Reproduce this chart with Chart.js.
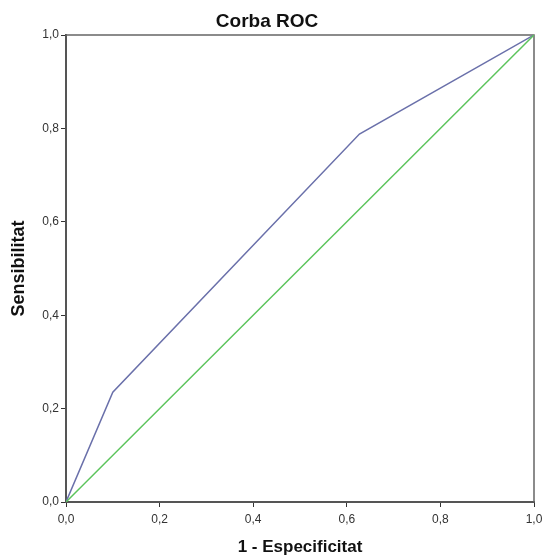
<!DOCTYPE html>
<html>
<head>
<meta charset="utf-8">
<script src="https://cdn.jsdelivr.net/npm/chart.js@4"></script>
<style>
  html, body { margin: 0; padding: 0; background: #fff; }
  #wrap { width: 543px; height: 556px; position: relative; }
</style>
</head>
<body>
<div id="wrap"><canvas id="roc"></canvas></div>
<script>
// ROC curve (SPSS style) - 1 - specificity vs sensitivity

const chartTitle = 'Corba ROC';
const xTitle = '1 - Especificitat';
const yTitle = 'Sensibilitat';

// curve vertices
const curveX = [0, 0.1, 0.627, 1];
const curveY = [0, 0.235, 0.788, 1];
// chance diagonal
const diagX = [0, 1];
const diagY = [0, 1];

const tickStep = 0.2;

const toPts = (xs, ys) => xs.map((x, i) => ({ x: x, y: ys[i] }));
const fmt = v => v.toFixed(1).replace('.', ',');
const FAM = '"Liberation Sans", Arial, sans-serif';

// frame on top/right + chart title
const framePlugin = {
    id: 'frame',
    beforeDatasetsDraw(chart) {
        const { ctx, chartArea: a } = chart;
        ctx.save();
        ctx.strokeStyle = '#666';
        ctx.lineWidth = 1.5;
        ctx.beginPath();
        ctx.moveTo(a.left, a.top);
        ctx.lineTo(a.right, a.top);
        ctx.lineTo(a.right, a.bottom);
        ctx.stroke();
        ctx.restore();
    },
    afterDraw(chart) {
        const ctx = chart.ctx;
        ctx.save();
        ctx.font = 'bold 19px ' + FAM;
        ctx.fillStyle = '#111';
        ctx.textAlign = 'center';
        ctx.textBaseline = 'middle';
        ctx.fillText(chartTitle, 267, 22);
        ctx.restore();
    }
};

const tickFont = { family: FAM, size: 12 };

new Chart(document.getElementById('roc'), {
    type: 'line',
    data: {
        datasets: [
            { data: toPts(diagX, diagY), borderColor: '#5cc45c', borderWidth: 1.5, pointRadius: 0, tension: 0 },
            { data: toPts(curveX, curveY), borderColor: '#6a70aa', borderWidth: 1.5, pointRadius: 0, tension: 0 }
        ]
    },
    options: {
        responsive: true,
        maintainAspectRatio: false,
        animation: false,
        layout: { padding: { top: 35, right: 9, left: 0, bottom: 0 } },
        plugins: {
            legend: { display: false },
            title: { display: false },
            tooltip: { enabled: false }
        },
        scales: {
            x: {
                type: 'linear', min: 0, max: 1,
                afterFit: s => { s.height = 54; s.paddingLeft = 0; s.paddingRight = 0; },
                border: { display: true, color: '#555', width: 2 },
                grid: { drawOnChartArea: false, drawTicks: true, tickLength: 5, color: '#333' },
                ticks: { stepSize: tickStep, callback: fmt, color: '#333', font: tickFont, padding: 5, maxRotation: 0 },
                title: {
                    display: true, text: xTitle, color: '#111',
                    font: { family: FAM, size: 17, weight: 'bold', lineHeight: 1 },
                    padding: { top: 0, bottom: 0 }
                }
            },
            y: {
                type: 'linear', min: 0, max: 1,
                afterFit: s => { s.width = 66; s.paddingTop = 0; s.paddingBottom = 0; },
                border: { display: true, color: '#555', width: 2 },
                grid: { drawOnChartArea: false, drawTicks: true, tickLength: 5, color: '#333' },
                ticks: { stepSize: tickStep, callback: fmt, color: '#333', font: tickFont, padding: 2 },
                title: {
                    display: true, text: yTitle, color: '#111',
                    font: { family: FAM, size: 18, weight: 'bold', lineHeight: 1 },
                    padding: { top: 10, bottom: 0 }
                }
            }
        }
    },
    plugins: [framePlugin]
});
</script>
</body>
</html>
